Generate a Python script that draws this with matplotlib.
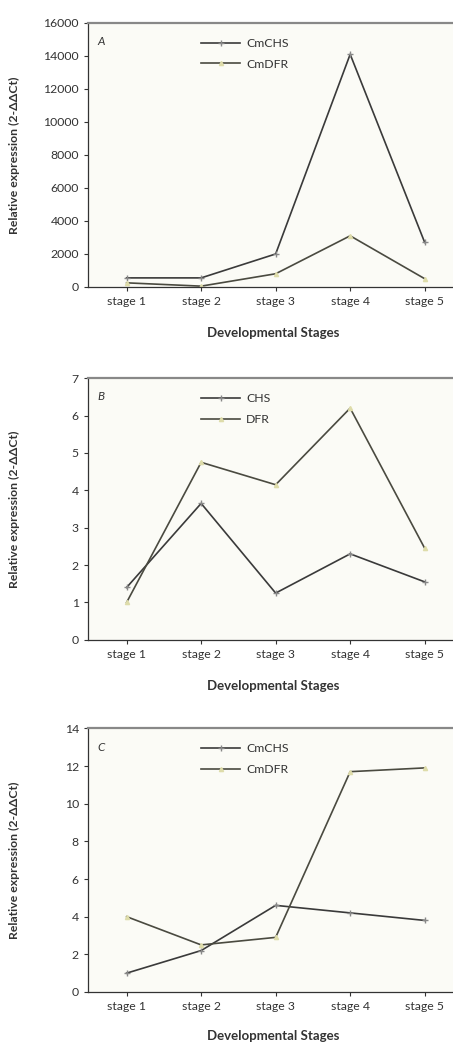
import matplotlib.pyplot as plt

plt.rcParams['font.family'] = ['Lato', 'DejaVu Sans']

stages = ["stage 1", "stage 2", "stage 3", "stage 4", "stage 5"]

# panel A
a_chs = [550, 550, 2000, 14100, 2700]
a_dfr = [250, 50, 800, 3100, 500]
# panel B
b_chs = [1.4, 3.65, 1.25, 2.3, 1.55]
b_dfr = [1.0, 4.75, 4.15, 6.2, 2.45]
# panel C
c_chs = [1.0, 2.2, 4.6, 4.2, 3.8]
c_dfr = [4.0, 2.5, 2.9, 11.7, 11.9]

panels = [
    ("A", a_chs, a_dfr, "CmCHS", "CmDFR", 16000, 2000, [0.194, 0.7246, 0.806, 0.2534], 0.677),
    ("B", b_chs, b_dfr, "CHS", "DFR", 7, 1, [0.194, 0.386, 0.806, 0.251], 0.338),
    ("C", c_chs, c_dfr, "CmCHS", "CmDFR", 14, 2, [0.194, 0.048, 0.806, 0.253], 0.002),
]

fig = plt.figure(figsize=(4.53, 10.42), dpi=100)

for letter, chs, dfr, n1, n2, ymax, step, pos, xlab_y in panels:
    ax = fig.add_axes(pos)
    ax.set_facecolor("#fbfbf6")
    x = range(1, 6)
    ax.plot(x, chs, color="#3a3a3a", lw=1.2, marker="+", ms=4, mec="#888888", label=n1)
    ax.plot(x, dfr, color="#4a4a40", lw=1.2, marker="^", ms=3, mfc="#dedcaa", mec="#dedcaa", label=n2)
    ax.set_xlim(0.48, 5.38)
    ax.set_ylim(0, ymax)
    ax.set_yticks(range(0, ymax + 1, step))
    ax.set_xticks(list(x))
    ax.set_xticklabels(stages)
    ax.tick_params(labelsize=8.8, colors="#333333", length=3, width=0.8)
    ax.spines["right"].set_visible(False)
    ax.spines["top"].set_color("#888888")
    ax.spines["top"].set_linewidth(1.6)
    for s in ["left", "bottom"]:
        ax.spines[s].set_color("#333333")
        ax.spines[s].set_linewidth(0.9)
    ax.text(0.025, 0.95, letter, transform=ax.transAxes, fontsize=8.5, style="italic",
            va="top", color="#333333")
    ax.legend(loc="upper left", bbox_to_anchor=(0.28, 0.985), frameon=False, fontsize=8.8,
              handlelength=3.2, handletextpad=0.5, labelspacing=0.8, labelcolor="#333333")
    ax.set_ylabel("Relative expression (2-ΔΔCt)", fontsize=8.8, fontweight="bold", color="#333333")
    ax.yaxis.set_label_coords(-0.185, 0.5)
    fig.text(0.603, xlab_y, "Developmental Stages", ha="center", fontsize=9.5,
             fontweight="bold", color="#333333")

fig.savefig("out.png", dpi=100, facecolor="white")
